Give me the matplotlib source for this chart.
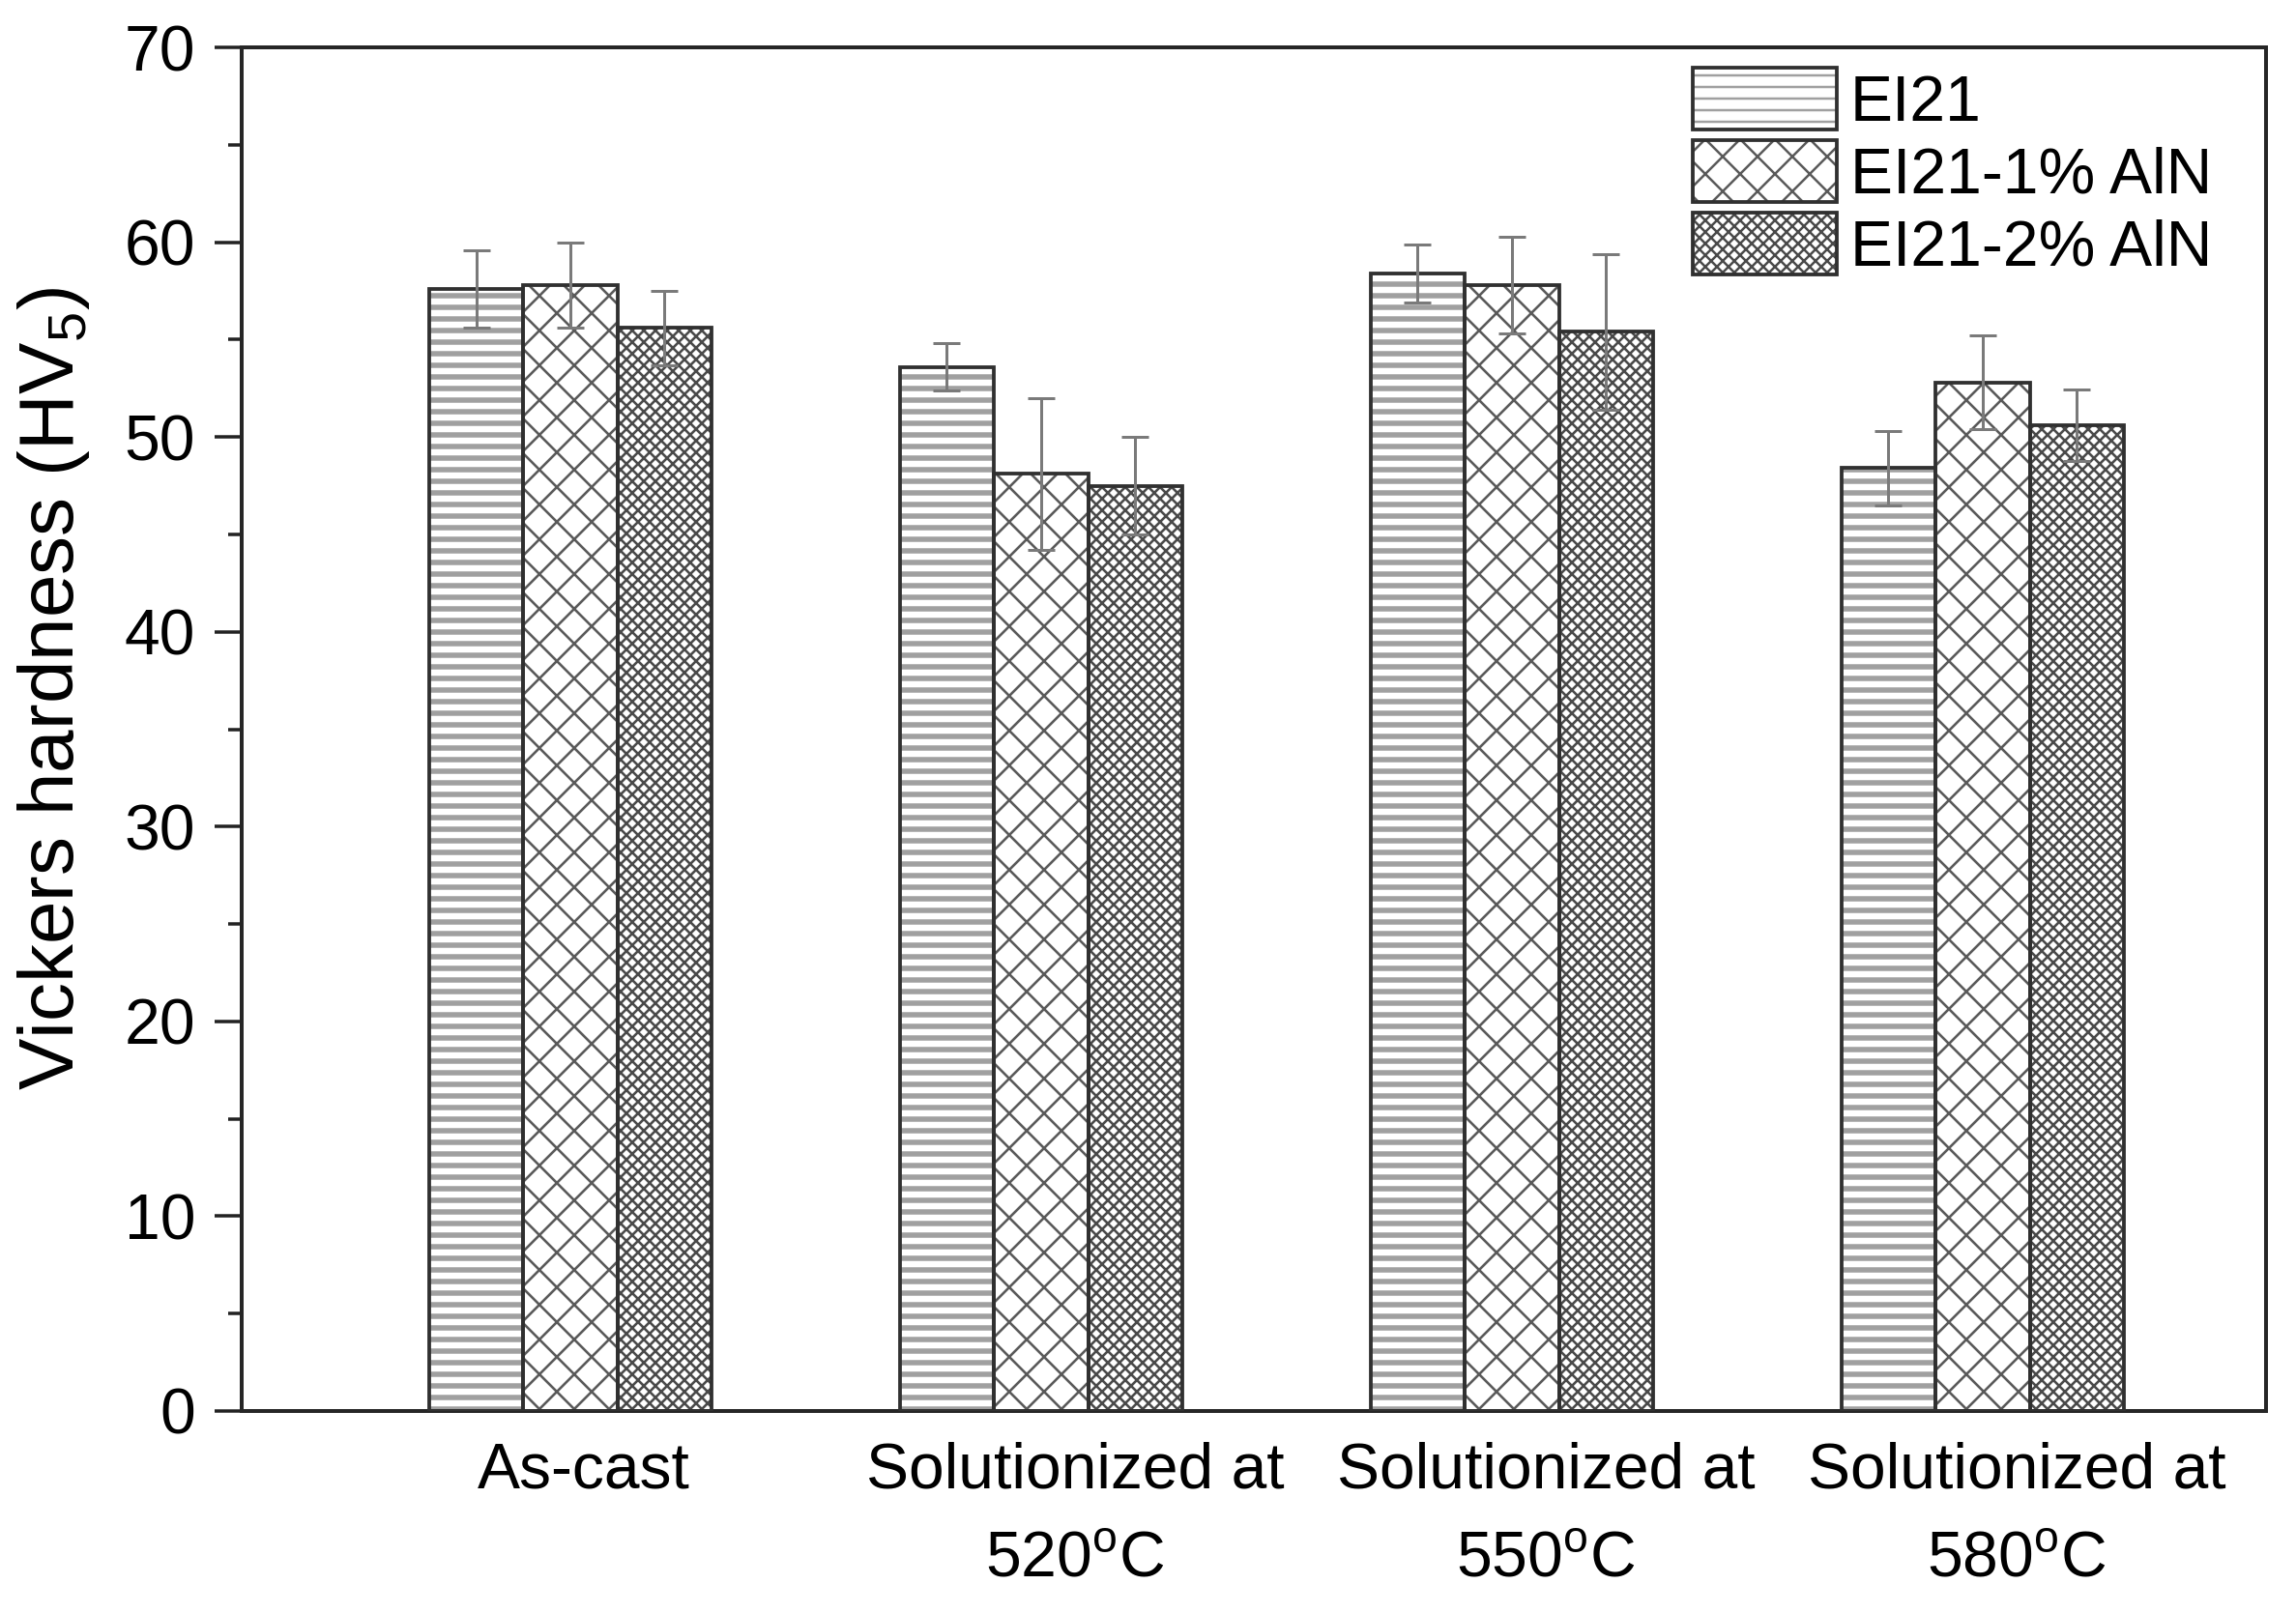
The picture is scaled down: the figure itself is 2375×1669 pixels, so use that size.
import numpy as np
import matplotlib
matplotlib.use("Agg")
import matplotlib.pyplot as plt
import matplotlib.hatch as mhatch
import matplotlib.transforms as mtrans
from matplotlib.ticker import MultipleLocator

# ---------------- data ----------------
categories = ["As-cast",
              "Solutionized at\n520$^\\mathregular{o}$C",
              "Solutionized at\n550$^\\mathregular{o}$C",
              "Solutionized at\n580$^\\mathregular{o}$C"]
series_names = ["EI21", "EI21-1% AlN", "EI21-2% AlN"]
ei21 = [57.6, 53.6, 58.4, 48.4]
ei21_err = [2.0, 1.2, 1.5, 1.9]
aln1 = [57.8, 48.1, 57.8, 52.8]
aln1_err = [2.2, 3.9, 2.5, 2.4]
aln2 = [55.6, 47.5, 55.4, 50.6]
aln2_err = [1.9, 2.5, 4.0, 1.85]
y_ticks = [0, 10, 20, 30, 40, 50, 60, 70]

# ---------------- hatch density tweak ----------------
_orig_get_path = mhatch.get_path
_HATCH_DENSITY = {"X": 4, "x": 12}


def _get_path(hatchpattern, density=6):
    return _orig_get_path(hatchpattern, _HATCH_DENSITY.get(hatchpattern, density))


mhatch.get_path = _get_path

DPI = 72
plt.rcParams["font.family"] = ["Liberation Sans", "DejaVu Sans"]
plt.rcParams["mathtext.fontset"] = "custom"
plt.rcParams["mathtext.rm"] = "Liberation Sans"
plt.rcParams["hatch.linewidth"] = 2.5

fig = plt.figure(figsize=(2375 / DPI, 1669 / DPI), dpi=DPI)
ax = fig.add_axes([250 / 2375, 1 - 1460 / 1669, (2344 - 250) / 2375, (1460 - 49) / 1669])

x = np.arange(1, len(categories) + 1)
width = 0.2
offsets = [-width, 0.0, width]
values = [ei21, aln1, aln2]
errors = [ei21_err, aln1_err, aln2_err]
hatches = ["-", "X", "x"]
hatch_colors = ["#a0a0a0", "#5a5a5a", "#4a4a4a"]
hatch_lws = [5.5, 2.6, 2.6]
edge = "#303030"

handles = []
for vals, errs, off, h, hc, hlw in zip(values, errors, offsets, hatches, hatch_colors, hatch_lws):
    with plt.rc_context({"hatch.linewidth": hlw}):
        hb = ax.bar(x + off, vals, width, color="white", edgecolor=hc, hatch=h,
                    linewidth=0, zorder=2)
    for p in hb.patches:
        if hasattr(p, "set_hatch_linewidth"):
            p.set_hatch_linewidth(hlw)
    ob = ax.bar(x + off, vals, width, fill=False, edgecolor=edge,
                linewidth=3.8, zorder=3)
    ax.errorbar(x + off, vals, yerr=errs, fmt="none", ecolor="#7a7a7a",
                elinewidth=3, capsize=14, capthick=3, zorder=4)
    handles.append((hb.patches[0], ob.patches[0]))

ax.set_xlim(0.302, 4.602)
ax.set_ylim(0, 70)
ax.set_yticks(y_ticks)
ax.yaxis.set_minor_locator(MultipleLocator(5))
ax.tick_params(axis="y", which="major", direction="out", length=28, width=3.5,
               labelsize=66, pad=20, color="#222222")
ax.tick_params(axis="y", which="minor", direction="out", length=14, width=3.5,
               color="#222222")
ax.set_xticks(x)
ax.set_xticklabels(categories, fontsize=66, linespacing=1.62)
ax.tick_params(axis="x", length=0, pad=32)
label_shift_px = [14, 35, 35, 35]
for lab, sp in zip(ax.get_xticklabels(), label_shift_px):
    lab.set_transform(lab.get_transform()
                      + mtrans.ScaledTranslation(sp / DPI, 0, fig.dpi_scale_trans))

for s in ax.spines.values():
    s.set_linewidth(4)
    s.set_color("#262626")

ax.set_ylabel("Vickers hardness (HV$_\\mathregular{5}$)", fontsize=80)
ax.yaxis.set_label_coords(-0.074, 0.53)

leg = ax.legend(handles, series_names, loc="upper left",
                bbox_to_anchor=(1751 / 2375, 1 - 70 / 1669),
                bbox_transform=fig.transFigure, frameon=False, fontsize=66,
                handlelength=2.25, handleheight=1.12, handletextpad=0.22,
                labelspacing=0.1, borderpad=0, borderaxespad=0)

fig.savefig("out.png", dpi=DPI)
